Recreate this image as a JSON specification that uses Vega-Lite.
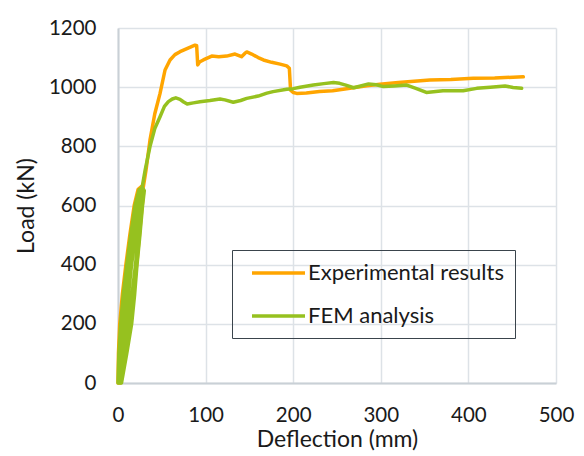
{
  "$schema": "https://vega.github.io/schema/vega-lite/v6.json",
  "width": 438,
  "height": 355,
  "autosize": {"type": "none"},
  "padding": {"left": 118, "top": 28, "right": 28, "bottom": 73},
  "background": "white",
  "config": {
    "font": "Lato",
    "view": {"stroke": null},
    "axis": {
      "domainColor": "#c9d0d6",
      "domainWidth": 2,
      "gridColor": "#dde2e7",
      "gridWidth": 1.5,
      "ticks": false,
      "labelColor": "#1a1a1a",
      "labelFontSize": 20.5,
      "titleColor": "#1a1a1a",
      "titleFontSize": 23,
      "titleFontWeight": "normal"
    },
    "legend": {
      "labelFontSize": 22,
      "labelColor": "#1a1a1a",
      "strokeColor": "#3a444c"
    }
  },
  "data": {
    "values": [
      {"s": "Experimental results", "i": 0, "x": 0, "y": 0},
      {"s": "Experimental results", "i": 1, "x": 0.5, "y": 100},
      {"s": "Experimental results", "i": 2, "x": 2, "y": 200},
      {"s": "Experimental results", "i": 3, "x": 5, "y": 300},
      {"s": "Experimental results", "i": 4, "x": 9, "y": 400},
      {"s": "Experimental results", "i": 5, "x": 13.5, "y": 500},
      {"s": "Experimental results", "i": 6, "x": 18.5, "y": 600},
      {"s": "Experimental results", "i": 7, "x": 23, "y": 655},
      {"s": "Experimental results", "i": 8, "x": 27, "y": 665},
      {"s": "Experimental results", "i": 9, "x": 29, "y": 640},
      {"s": "Experimental results", "i": 10, "x": 26, "y": 550},
      {"s": "Experimental results", "i": 11, "x": 22, "y": 420},
      {"s": "Experimental results", "i": 12, "x": 17, "y": 280},
      {"s": "Experimental results", "i": 13, "x": 10, "y": 120},
      {"s": "Experimental results", "i": 14, "x": 3, "y": 0},
      {"s": "Experimental results", "i": 15, "x": 1.5, "y": 0},
      {"s": "Experimental results", "i": 16, "x": 3, "y": 120},
      {"s": "Experimental results", "i": 17, "x": 7, "y": 260},
      {"s": "Experimental results", "i": 18, "x": 12, "y": 420},
      {"s": "Experimental results", "i": 19, "x": 17, "y": 550},
      {"s": "Experimental results", "i": 20, "x": 22, "y": 630},
      {"s": "Experimental results", "i": 21, "x": 28.9, "y": 663},
      {"s": "Experimental results", "i": 22, "x": 32, "y": 720},
      {"s": "Experimental results", "i": 23, "x": 36.5, "y": 821},
      {"s": "Experimental results", "i": 24, "x": 42, "y": 910},
      {"s": "Experimental results", "i": 25, "x": 48, "y": 979},
      {"s": "Experimental results", "i": 26, "x": 53.7, "y": 1058},
      {"s": "Experimental results", "i": 27, "x": 59.4, "y": 1092},
      {"s": "Experimental results", "i": 28, "x": 65, "y": 1110},
      {"s": "Experimental results", "i": 29, "x": 70.8, "y": 1120},
      {"s": "Experimental results", "i": 30, "x": 80, "y": 1132},
      {"s": "Experimental results", "i": 31, "x": 87.9, "y": 1142},
      {"s": "Experimental results", "i": 32, "x": 89.8, "y": 1140},
      {"s": "Experimental results", "i": 33, "x": 91, "y": 1075},
      {"s": "Experimental results", "i": 34, "x": 93, "y": 1085},
      {"s": "Experimental results", "i": 35, "x": 97.4, "y": 1092},
      {"s": "Experimental results", "i": 36, "x": 107, "y": 1105},
      {"s": "Experimental results", "i": 37, "x": 115, "y": 1103},
      {"s": "Experimental results", "i": 38, "x": 124, "y": 1105},
      {"s": "Experimental results", "i": 39, "x": 133.6, "y": 1112},
      {"s": "Experimental results", "i": 40, "x": 141, "y": 1103},
      {"s": "Experimental results", "i": 41, "x": 145, "y": 1115},
      {"s": "Experimental results", "i": 42, "x": 147, "y": 1119},
      {"s": "Experimental results", "i": 43, "x": 152.6, "y": 1112},
      {"s": "Experimental results", "i": 44, "x": 160, "y": 1100},
      {"s": "Experimental results", "i": 45, "x": 166, "y": 1092},
      {"s": "Experimental results", "i": 46, "x": 175.4, "y": 1084},
      {"s": "Experimental results", "i": 47, "x": 185, "y": 1078},
      {"s": "Experimental results", "i": 48, "x": 192.6, "y": 1072},
      {"s": "Experimental results", "i": 49, "x": 195.6, "y": 1064},
      {"s": "Experimental results", "i": 50, "x": 197, "y": 990},
      {"s": "Experimental results", "i": 51, "x": 200, "y": 982},
      {"s": "Experimental results", "i": 52, "x": 204, "y": 979},
      {"s": "Experimental results", "i": 53, "x": 215, "y": 980},
      {"s": "Experimental results", "i": 54, "x": 230, "y": 985},
      {"s": "Experimental results", "i": 55, "x": 245, "y": 988},
      {"s": "Experimental results", "i": 56, "x": 261, "y": 995},
      {"s": "Experimental results", "i": 57, "x": 284, "y": 1005},
      {"s": "Experimental results", "i": 58, "x": 299, "y": 1010},
      {"s": "Experimental results", "i": 59, "x": 320, "y": 1016},
      {"s": "Experimental results", "i": 60, "x": 356, "y": 1024},
      {"s": "Experimental results", "i": 61, "x": 380, "y": 1026},
      {"s": "Experimental results", "i": 62, "x": 405.6, "y": 1030},
      {"s": "Experimental results", "i": 63, "x": 430, "y": 1031},
      {"s": "Experimental results", "i": 64, "x": 462.7, "y": 1035},
      {"s": "FEM analysis", "i": 0, "x": 0, "y": 0},
      {"s": "FEM analysis", "i": 1, "x": 1, "y": 100},
      {"s": "FEM analysis", "i": 2, "x": 3, "y": 200},
      {"s": "FEM analysis", "i": 3, "x": 6, "y": 300},
      {"s": "FEM analysis", "i": 4, "x": 10, "y": 400},
      {"s": "FEM analysis", "i": 5, "x": 14.5, "y": 500},
      {"s": "FEM analysis", "i": 6, "x": 19.4, "y": 600},
      {"s": "FEM analysis", "i": 7, "x": 24, "y": 653},
      {"s": "FEM analysis", "i": 8, "x": 28, "y": 660},
      {"s": "FEM analysis", "i": 9, "x": 30, "y": 650},
      {"s": "FEM analysis", "i": 10, "x": 28, "y": 600},
      {"s": "FEM analysis", "i": 11, "x": 25, "y": 500},
      {"s": "FEM analysis", "i": 12, "x": 21.7, "y": 400},
      {"s": "FEM analysis", "i": 13, "x": 19, "y": 300},
      {"s": "FEM analysis", "i": 14, "x": 15.6, "y": 200},
      {"s": "FEM analysis", "i": 15, "x": 10, "y": 100},
      {"s": "FEM analysis", "i": 16, "x": 4, "y": 0},
      {"s": "FEM analysis", "i": 17, "x": 2, "y": 0},
      {"s": "FEM analysis", "i": 18, "x": 4, "y": 100},
      {"s": "FEM analysis", "i": 19, "x": 8, "y": 200},
      {"s": "FEM analysis", "i": 20, "x": 12, "y": 300},
      {"s": "FEM analysis", "i": 21, "x": 15.5, "y": 400},
      {"s": "FEM analysis", "i": 22, "x": 20, "y": 500},
      {"s": "FEM analysis", "i": 23, "x": 24, "y": 600},
      {"s": "FEM analysis", "i": 24, "x": 28, "y": 648},
      {"s": "FEM analysis", "i": 25, "x": 25, "y": 550},
      {"s": "FEM analysis", "i": 26, "x": 20, "y": 400},
      {"s": "FEM analysis", "i": 27, "x": 14, "y": 250},
      {"s": "FEM analysis", "i": 28, "x": 8, "y": 120},
      {"s": "FEM analysis", "i": 29, "x": 3, "y": 0},
      {"s": "FEM analysis", "i": 30, "x": 1.5, "y": 0},
      {"s": "FEM analysis", "i": 31, "x": 3, "y": 100},
      {"s": "FEM analysis", "i": 32, "x": 6, "y": 200},
      {"s": "FEM analysis", "i": 33, "x": 9.5, "y": 300},
      {"s": "FEM analysis", "i": 34, "x": 13, "y": 400},
      {"s": "FEM analysis", "i": 35, "x": 17, "y": 500},
      {"s": "FEM analysis", "i": 36, "x": 22, "y": 600},
      {"s": "FEM analysis", "i": 37, "x": 27, "y": 652},
      {"s": "FEM analysis", "i": 38, "x": 31, "y": 720},
      {"s": "FEM analysis", "i": 39, "x": 36.5, "y": 799},
      {"s": "FEM analysis", "i": 40, "x": 42, "y": 860},
      {"s": "FEM analysis", "i": 41, "x": 48, "y": 900},
      {"s": "FEM analysis", "i": 42, "x": 53, "y": 935},
      {"s": "FEM analysis", "i": 43, "x": 57.5, "y": 951},
      {"s": "FEM analysis", "i": 44, "x": 62, "y": 960},
      {"s": "FEM analysis", "i": 45, "x": 66, "y": 964},
      {"s": "FEM analysis", "i": 46, "x": 70.8, "y": 959},
      {"s": "FEM analysis", "i": 47, "x": 75, "y": 950},
      {"s": "FEM analysis", "i": 48, "x": 79, "y": 943},
      {"s": "FEM analysis", "i": 49, "x": 86, "y": 947},
      {"s": "FEM analysis", "i": 50, "x": 93.6, "y": 951},
      {"s": "FEM analysis", "i": 51, "x": 105, "y": 955},
      {"s": "FEM analysis", "i": 52, "x": 116.4, "y": 960},
      {"s": "FEM analysis", "i": 53, "x": 122, "y": 957},
      {"s": "FEM analysis", "i": 54, "x": 131.6, "y": 949},
      {"s": "FEM analysis", "i": 55, "x": 140, "y": 955},
      {"s": "FEM analysis", "i": 56, "x": 147, "y": 962},
      {"s": "FEM analysis", "i": 57, "x": 160, "y": 970},
      {"s": "FEM analysis", "i": 58, "x": 170, "y": 980},
      {"s": "FEM analysis", "i": 59, "x": 177, "y": 985},
      {"s": "FEM analysis", "i": 60, "x": 192.6, "y": 993},
      {"s": "FEM analysis", "i": 61, "x": 200, "y": 995},
      {"s": "FEM analysis", "i": 62, "x": 207.8, "y": 1000},
      {"s": "FEM analysis", "i": 63, "x": 223, "y": 1007},
      {"s": "FEM analysis", "i": 64, "x": 235, "y": 1012},
      {"s": "FEM analysis", "i": 65, "x": 246, "y": 1016},
      {"s": "FEM analysis", "i": 66, "x": 253, "y": 1013},
      {"s": "FEM analysis", "i": 67, "x": 260, "y": 1007},
      {"s": "FEM analysis", "i": 68, "x": 269, "y": 998},
      {"s": "FEM analysis", "i": 69, "x": 277, "y": 1004},
      {"s": "FEM analysis", "i": 70, "x": 286, "y": 1011},
      {"s": "FEM analysis", "i": 71, "x": 295, "y": 1008},
      {"s": "FEM analysis", "i": 72, "x": 303, "y": 1002},
      {"s": "FEM analysis", "i": 73, "x": 315, "y": 1004},
      {"s": "FEM analysis", "i": 74, "x": 329.6, "y": 1007},
      {"s": "FEM analysis", "i": 75, "x": 340, "y": 996},
      {"s": "FEM analysis", "i": 76, "x": 352, "y": 982},
      {"s": "FEM analysis", "i": 77, "x": 371, "y": 988},
      {"s": "FEM analysis", "i": 78, "x": 394, "y": 988},
      {"s": "FEM analysis", "i": 79, "x": 409.5, "y": 996},
      {"s": "FEM analysis", "i": 80, "x": 425, "y": 1000},
      {"s": "FEM analysis", "i": 81, "x": 441.8, "y": 1004},
      {"s": "FEM analysis", "i": 82, "x": 451, "y": 999},
      {"s": "FEM analysis", "i": 83, "x": 460.8, "y": 996}
    ]
  },
  "mark": {"type": "line", "strokeWidth": 3.5, "strokeJoin": "round", "strokeCap": "round"},
  "encoding": {
    "x": {
      "field": "x", "type": "quantitative",
      "scale": {"domain": [0, 500], "nice": false},
      "axis": {"values": [0, 100, 200, 300, 400, 500], "format": "d", "title": "Deflection (mm)", "labelFlush": false, "labelPadding": 22, "titlePadding": 3}
    },
    "y": {
      "field": "y", "type": "quantitative",
      "scale": {"domain": [0, 1200], "nice": false},
      "axis": {"values": [0, 200, 400, 600, 800, 1000, 1200], "format": "d", "title": "Load (kN)", "labelPadding": 22, "titlePadding": 10}
    },
    "order": {"field": "i", "type": "quantitative"},
    "color": {
      "field": "s", "type": "nominal",
      "scale": {"domain": ["Experimental results", "FEM analysis"], "range": ["#ffa500", "#96c11f"]},
      "legend": {
        "title": null,
        "orient": "none",
        "legendX": 114,
        "legendY": 222,
        "symbolType": "M-0.3,0H5",
        "symbolSize": 400,
        "symbolStrokeWidth": 3.5,
        "padding": 11,
        "labelOffset": 41,
        "labelLimit": 400,
        "rowPadding": 20
      }
    }
  }
}
